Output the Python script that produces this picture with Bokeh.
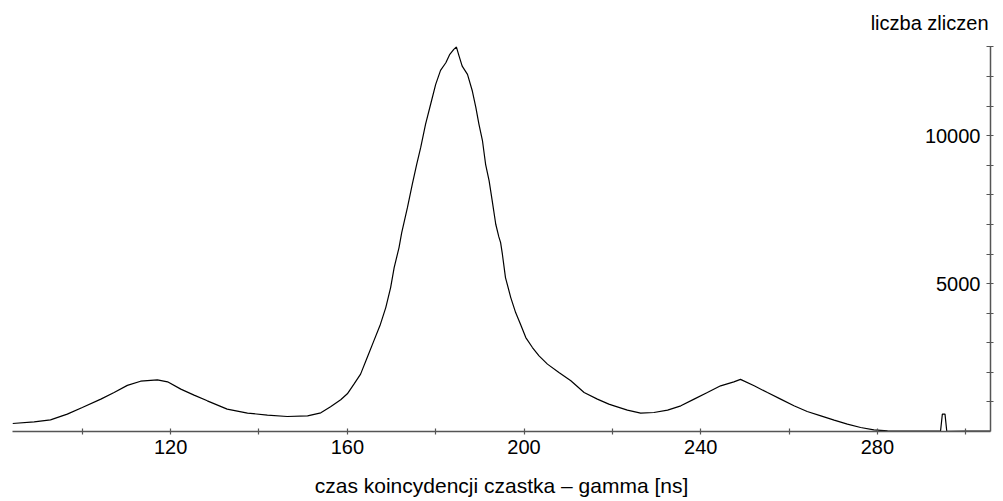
from bokeh.plotting import figure
from bokeh.models import Range1d, LinearAxis, FixedTicker, ColumnDataSource, Label
from bokeh.embed import file_html
from bokeh.resources import INLINE

# Coincidence-time spectrum: particle - gamma
time_ns = [
    84.2, 89.1, 92.8, 96.6, 100.0, 104.2, 107.2, 110.2, 113.2, 117.0,
    119.3, 122.3, 125.3, 128.3, 132.8, 137.4, 141.9, 146.4, 151.0, 154.0,
    156.2, 158.5, 160.0, 161.5, 163.0, 164.5, 166.0, 167.5, 168.7, 169.8,
    170.6, 171.7, 172.3, 173.6, 174.7, 175.7, 176.6, 177.7, 178.9, 180.0,
    181.1, 182.3, 183.2, 184.1, 184.7, 185.3, 186.0, 187.2, 188.3, 189.1,
    189.8, 190.6, 191.3, 192.1, 192.8, 193.6, 194.3, 194.7, 195.1, 195.8,
    197.0, 198.1, 199.2, 200.4, 201.9, 203.4, 205.3, 207.9, 210.6, 213.6,
    216.6, 219.2, 220.4, 223.4, 226.4, 229.4, 232.5, 235.5, 238.5, 241.5,
    244.5, 247.5, 249.0, 252.1, 255.1, 258.1, 261.1, 264.1, 267.2, 270.2,
    273.2, 276.2, 279.2, 282.3, 285.3, 292.1, 294.3, 294.7, 295.3, 295.7,
    300.0, 305.6,
]
counts = [
    270, 328, 395, 588, 811, 1094, 1317, 1560, 1700, 1746,
    1680, 1432, 1230, 1037, 757, 622, 554, 507, 530, 632,
    834, 1071, 1274, 1601, 1939, 2500, 3064, 3628, 4189, 4864,
    5540, 6216, 6712, 7567, 8357, 9033, 9594, 10384, 11087, 11735,
    12208, 12465, 12749, 12917, 12995, 12691, 12353, 12073, 11509, 10945,
    10384, 9820, 9033, 8469, 7793, 7006, 6577, 6384, 5993, 5202,
    4527, 4020, 3628, 3175, 2838, 2557, 2277, 1993, 1713, 1317,
    1094, 926, 868, 723, 622, 642, 723, 868, 1094, 1317,
    1544, 1679, 1763, 1544, 1317, 1094, 868, 676, 530, 385,
    250, 135, 57, 24, 10, 12, 24, 588, 588, 8,
    12, 10,
]

x_major = [120, 160, 200, 240, 280]
x_minor = [100, 140, 180, 220, 260, 300]
y_major = [5000, 10000]
y_minor = [1000, 2000, 3000, 4000, 6000, 7000, 8000, 9000, 11000, 12000, 13000]

x_start, x_end = 84.2, 305.6
y_start, y_end = 0, 13000
y_view_top = 14400     # headroom above the counts axis for its title

FONT = "Liberation Sans"
SIZE = "20px"
AXIS_COLOR = "#555555"

p = figure(
    width=1003, height=501,
    x_range=Range1d(x_start, x_end), y_range=Range1d(y_start, y_view_top),
    output_backend="svg", toolbar_location=None, y_axis_location=None,
    min_border_left=12, min_border_right=13, min_border_top=5,
    min_border_bottom=70,
)
p.outline_line_color = None
p.grid.visible = False
p.background_fill_color = "white"
p.border_fill_color = "white"

# bottom time axis
xa = p.xaxis[0]
xa.ticker = FixedTicker(ticks=x_major, minor_ticks=x_minor)
xa.axis_label = "czas koincydencji czastka \u2013 gamma [ns]"

# counts axis: line and ticks on the right edge of the frame ...
y_rule = LinearAxis(ticker=FixedTicker(ticks=[], minor_ticks=y_major + y_minor),
                    bounds=(y_start, y_end))
p.add_layout(y_rule, "right")
# ... and its numbers written just inside the frame
y_nums = LinearAxis(fixed_location=x_end, ticker=FixedTicker(ticks=y_major))
p.add_layout(y_nums, "left")

for ax in (xa, y_rule, y_nums):
    ax.axis_line_color = AXIS_COLOR
    ax.axis_line_width = 1.5
    ax.major_tick_line_color = AXIS_COLOR
    ax.minor_tick_line_color = AXIS_COLOR
    ax.major_tick_line_width = 1.2
    ax.minor_tick_line_width = 1.2
    ax.major_label_text_font = FONT
    ax.major_label_text_font_size = SIZE
    ax.major_label_text_color = "black"
    ax.axis_label_text_font = FONT
    ax.axis_label_text_font_size = "21px"
    ax.axis_label_text_font_style = "normal"
    ax.axis_label_text_color = "black"

xa.major_tick_in = 3
xa.major_tick_out = 3
xa.minor_tick_in = 3
xa.minor_tick_out = 3
xa.major_label_standoff = 5
xa.axis_label_standoff = 17

y_rule.minor_tick_in = 4
y_rule.minor_tick_out = 3

y_nums.axis_line_color = None
y_nums.major_tick_line_color = None
y_nums.minor_tick_line_color = None
y_nums.major_tick_in = 0
y_nums.major_tick_out = 6
y_nums.major_label_standoff = 4

# counts-axis title just above the top of the axis
p.add_layout(Label(x=x_end, y=y_end, x_offset=-2, y_offset=24,
                   text="liczba zliczen", text_align="right",
                   text_baseline="alphabetic", text_font=FONT,
                   text_font_size=SIZE, text_color="black"))

src = ColumnDataSource(dict(t=time_ns, n=counts))
p.line("t", "n", source=src, line_color="black", line_width=1.2)

open("out.html", "w").write(file_html(p, INLINE))
